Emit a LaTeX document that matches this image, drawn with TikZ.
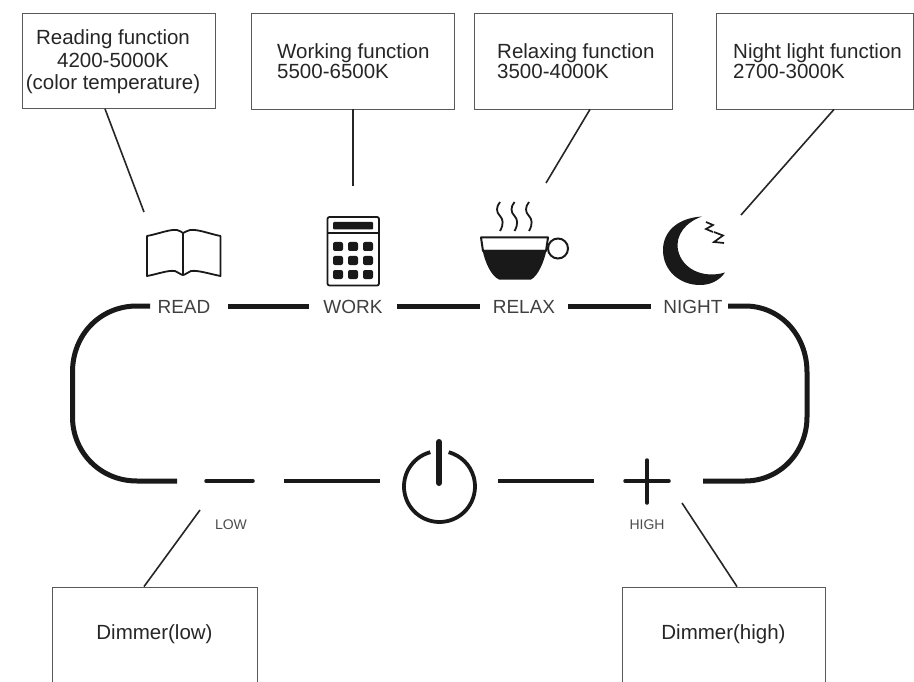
\documentclass[tikz,border=0pt]{standalone}
\usepackage{fontspec}
\setmainfont{Liberation Sans}
\begin{document}
\begin{tikzpicture}[x=1pt,y=-1pt,
  callout/.style={draw=black!65,line width=0.8pt,fill=white,inner sep=0pt,align=center,font=\fontsize{20.5}{24}\selectfont,text=black!85},
  multiline/.style={inner sep=0pt,text=black!85},
  leader/.style={line width=1.6pt,black!85},
  band/.style={line width=5pt,black!90},
  fine band/.style={line width=3.5pt,black!90,line cap=round},
  key/.style={inner sep=0pt,font=\fontsize{19}{21}\selectfont,black!75},
  small key/.style={inner sep=0pt,font=\fontsize{14}{16}\selectfont,black!70},
  glyph/.style={line width=1.8pt,black!90,line join=round}]
\useasboundingbox (0,0) rectangle (914,682);
\fill[white] (0,0) rectangle (914,682);
% callouts
\node[callout,minimum width=193pt,minimum height=95pt] (bread) at (118.5,61) {};
\node[callout,minimum width=203pt,minimum height=96pt] (bwork) at (352.5,61) {};
\node[callout,minimum width=198pt,minimum height=96pt] (brelax) at (573,61) {};
\node[callout,minimum width=197pt,minimum height=96pt] (bnight) at (815,61) {};
\node[callout,minimum width=205pt,minimum height=95pt] (blow) at (154.5,634.5) {Dimmer(low)};
\node[callout,minimum width=203pt,minimum height=95pt] (bhigh) at (723.5,634.5) {Dimmer(high)};
\node[multiline,align=center,font=\fontsize{20.5}{22.5}\selectfont] (tread) at (113,62) {Reading function\\4200-5000K\\(color temperature)};
\node[multiline,align=left,anchor=west,font=\fontsize{20.5}{20}\selectfont] (twork) at (277,61) {Working function\\5500-6500K};
\node[multiline,align=left,anchor=west,font=\fontsize{20.5}{20}\selectfont] (trelax) at (497,61) {Relaxing function\\3500-4000K};
\node[multiline,align=left,anchor=west,font=\fontsize{20.5}{20}\selectfont] (tnight) at (733,61) {Night light function\\2700-3000K};
% free ends
\coordinate (eread) at (144,212);
\coordinate (ework) at (353,186);
\coordinate (erelax) at (546,183);
\coordinate (enight) at (741,215);
\coordinate (elow) at (200,510);
\coordinate (ehigh) at (682,503);
\draw[leader] (bread.south -| 105,0) -- (eread);
\draw[leader] (bwork.south -| 353,0) -- (ework);
\draw[leader] (brelax.south -| 590,0) -- (erelax);
\draw[leader] (bnight.south -| 834,0) -- (enight);
\draw[leader] (blow.north -| 144,0) -- (elow);
\draw[leader] (bhigh.north -| 737,0) -- (ehigh);
% labels
\node[key] (read) at (184,307) {READ};
\node[key] (work) at (353,307) {WORK};
\node[key] (relax) at (524,307) {RELAX};
\node[key] (night) at (693,307) {NIGHT};
\node[small key] (low) at (231,525) {LOW};
\node[small key] (high) at (647,525) {HIGH};
% band
\draw[band] (150,306) -- (137,306) .. controls (100,306) and (72.5,335) .. (72.5,372) -- (72.5,417) .. controls (72.5,452) and (100,481) .. (137,481) -- (177,481);
\draw[band] (228,306) -- (309,306);
\draw[band] (397,306) -- (480,306);
\draw[band] (568,306) -- (651,306);
\draw[band] (728,306) -- (745,306) .. controls (780,306) and (807,335) .. (807,372) -- (807,417) .. controls (807,452) and (780,481) .. (745,481) -- (703,481);
\draw[band,line width=4.5pt] (284,481) -- (380,481);
\draw[band,line width=4.5pt] (498,481) -- (594,481);
\draw[fine band] (206,481) -- (253,481);
\draw[fine band] (625,481) -- (669,481);
\draw[fine band] (647,460) -- (647,503);
% power
\draw[line width=3.8pt,black!90] (430.3,452.2) arc[start angle=-105,end angle=-435,radius=35.5];
\draw[line width=6pt,black!90,line cap=round] (439,442) -- (439,483);
% book
\draw[glyph] (147,236) .. controls (158,234) and (170,229) .. (177,230) .. controls (180,231) and (182,232) .. (183,233) .. controls (185,232) and (187,231) .. (190,230) .. controls (198,229) and (210,234) .. (220.5,236) -- (220.5,276) .. controls (210,274) and (198,270) .. (191,271) .. controls (188,272) and (185,275) .. (183,275) .. controls (181,275) and (178,272) .. (175,271) .. controls (168,270) and (158,274) .. (147,276) -- cycle;
\draw[glyph] (183,233) -- (183,275);
% calculator
\draw[glyph,rounded corners=2pt] (327.5,217) rectangle (379,285.5);
\draw[glyph] (327.5,233) -- (379,233);
\fill[black!90,rounded corners=1pt] (333,222) rectangle (373,229.5);
\foreach \i in {0,1,2}\foreach \j in {0,1,2}
  \fill[black!90,rounded corners=2pt] (333+15*\i,242+14*\j) rectangle ++(10,9);
% cup
\foreach \x in {0,14.5,29}
  \draw[line width=1.8pt,black!90] (500+\x,231) .. controls (504+\x,224) and (503+\x,219) .. (500+\x,216) .. controls (496+\x,212) and (496+\x,207) .. (500+\x,202);
\draw[line width=2pt,black!90,fill=white,line join=round] (481,237.5) -- (548,237.5) -- (546,251) -- (483,251) -- cycle;
\fill[black!90] (482.5,250) -- (546.5,250) .. controls (544,262) and (538,276) .. (531,279.5) -- (499,279.5) .. controls (491,276) and (485,262) .. (482.5,250) -- cycle;
\draw[line width=2pt,black!90] (558,248.5) circle (10);
% moon
\fill[black!90] (702,216.5) .. controls (677,218) and (663,232) .. (663,250) .. controls (663,271) and (680,285) .. (700,285) .. controls (710,285) and (719,281) .. (725,272.5) .. controls (703,279) and (682,269) .. (678,250) .. controls (675,235) and (686,222) .. (702,216.5) -- cycle;
\draw[line width=1.7pt,black!90] (706,222) -- (713,225) -- (706,229) -- (713,232);
\draw[line width=1.7pt,black!90] (714,232) -- (723,235.5) -- (714,242) -- (724,243);
\end{tikzpicture}
\end{document}
